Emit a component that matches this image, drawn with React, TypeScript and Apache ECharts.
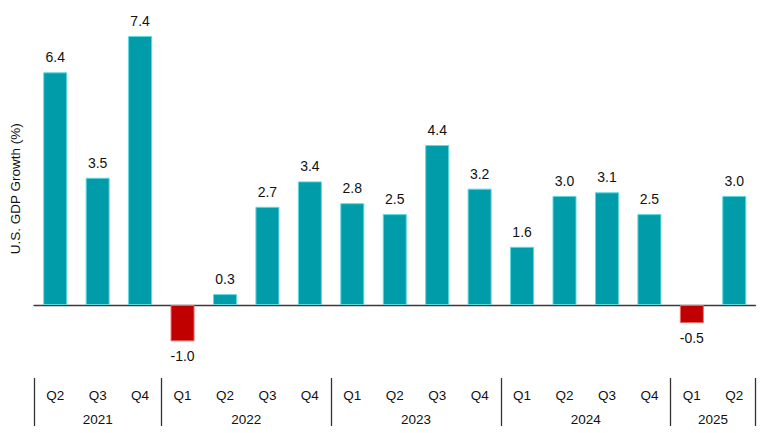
import React, { useEffect, useRef } from "react";
import * as echarts from "echarts";

const quarters = ["Q2", "Q3", "Q4", "Q1", "Q2", "Q3", "Q4", "Q1", "Q2", "Q3", "Q4", "Q1", "Q2", "Q3", "Q4", "Q1", "Q2"];
const gdpGrowth = [6.4, 3.5, 7.4, -1.0, 0.3, 2.7, 3.4, 2.8, 2.5, 4.4, 3.2, 1.6, 3.0, 3.1, 2.5, -0.5, 3.0];
const years = ["2021", "2022", "2023", "2024", "2025"];
const quartersPerYear = [3, 4, 4, 4, 2];

const TEAL = "#009CA9";
const TEAL_EDGE = "#5FD8DF";
const RED = "#C00000";
const RED_EDGE = "#E86A6A";

export default function App() {
  const ref = useRef<HTMLDivElement>(null);
  useEffect(() => {
    if (!ref.current) return;
    const chart = echarts.init(ref.current, undefined, { renderer: "svg" });

    const boundaries: number[] = [0];
    const centers: number[] = [];
    let acc = 0;
    quartersPerYear.forEach((n) => {
      centers.push(acc + n / 2);
      acc += n;
      boundaries.push(acc);
    });

    const font = "Liberation Sans, Arial, sans-serif";

    chart.setOption({
      animation: false,
      backgroundColor: "#ffffff",
      grid: { left: 30.15, right: 12.5, top: 28.7, bottom: 84.4, containLabel: false },
      xAxis: [
        {
          type: "category",
          data: quarters,
          axisLine: { show: true, onZero: true, lineStyle: { color: "#3a3a3a", width: 1.3 } },
          axisTick: { show: false },
          axisLabel: { show: false },
          splitLine: { show: false },
        },
        {
          type: "category",
          data: quarters,
          position: "bottom",
          offset: 0,
          axisLine: { show: false, onZero: false },
          axisTick: { show: false },
          axisLabel: { show: true, margin: 40, fontSize: 13.5, color: "#111", fontFamily: font },
          splitLine: { show: false },
        },
        {
          type: "value",
          min: 0,
          max: acc,
          position: "bottom",
          offset: 29.4,
          axisLine: { show: false, onZero: false },
          axisTick: {
            show: true,
            customValues: boundaries,
            length: 48,
            lineStyle: { color: "#333", width: 1.3 },
          },
          axisLabel: {
            show: true,
            customValues: centers,
            margin: 34.5,
            fontSize: 13.5,
            color: "#111",
            fontFamily: font,
            formatter: (v: number) => {
              const i = centers.findIndex((c) => Math.abs(c - v) < 1e-6);
              return i >= 0 ? years[i] : "";
            },
          },
          splitLine: { show: false },
        },
      ],
      yAxis: {
        type: "value",
        min: -1.2,
        max: 7.6,
        name: "U.S. GDP Growth (%)",
        nameLocation: "middle",
        nameGap: 12,
        nameTextStyle: { fontSize: 13.5, color: "#111", fontFamily: font },
        axisLine: { show: false },
        axisTick: { show: false },
        axisLabel: { show: false },
        splitLine: { show: false },
      },
      series: [
        {
          type: "bar",
          xAxisIndex: 0,
          barWidth: 24,
          data: gdpGrowth.map((v) => ({
            value: v,
            itemStyle: {
              color: v < 0 ? RED : TEAL,
              borderColor: v < 0 ? RED_EDGE : TEAL_EDGE,
              borderWidth: 1,
            },
            label: {
              show: true,
              position: v < 0 ? "bottom" : "top",
              distance: 8,
              formatter: () => v.toFixed(1),
              fontSize: 14,
              color: "#111",
              fontFamily: font,
            },
          })),
        },
      ],
    });
    return () => chart.dispose();
  }, []);
  return (
    <div
      ref={ref}
      style={{ position: "fixed", left: 0, top: 0, width: 768, height: 433 }}
    />
  );
}
